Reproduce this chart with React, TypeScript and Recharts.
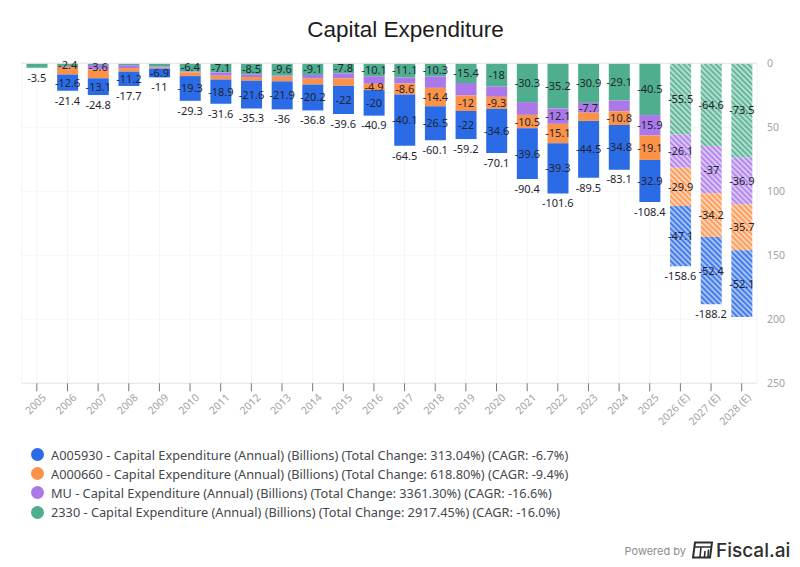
import React from 'react';
import {
  Bar,
  CartesianGrid,
  Cell,
  ComposedChart,
  LabelList,
  Line,
  ReferenceLine,
  XAxis,
  YAxis,
} from 'recharts';

const years = [
  '2005', '2006', '2007', '2008', '2009', '2010', '2011', '2012', '2013', '2014', '2015', '2016',
  '2017', '2018', '2019', '2020', '2021', '2022', '2023', '2024', '2025', '2026 (E)', '2027 (E)', '2028 (E)',
];

const greenValues = [-3.5, -2.4, -1.3, -1.5, -2.6, -6.4, -7.1, -8.5, -9.6, -9.1, -7.8, -10.1, -11.1, -10.3, -15.4, -18, -30.3, -35.2, -30.9, -29.1, -40.5, -55.5, -64.6, -73.5];
const purpleValues = [0, -0.4, -3.6, -2.2, -0.8, -0.8, -2.6, -2.3, -0.9, -2.9, -4, -5.9, -4.7, -8.9, -9.8, -8.2, -10, -12.1, -7.7, -8.4, -15.9, -26.1, -37, -36.9];
const orangeValues = [0, -6, -6.8, -2.8, -0.7, -2.8, -3, -2.9, -3.6, -4.6, -5.8, -4.9, -8.6, -14.4, -12, -9.3, -10.5, -15.1, -6.4, -10.8, -19.1, -29.9, -34.2, -35.7];
const blueValues = [0, -12.6, -13.1, -11.2, -6.9, -19.3, -18.9, -21.6, -21.9, -20.2, -22, -20, -40.1, -26.5, -22, -34.6, -39.6, -39.3, -44.5, -34.8, -32.9, -47.1, -52.4, -52.1];
const totalValues = [-3.5, -21.4, -24.8, -17.7, -11, -29.3, -31.6, -35.3, -36, -36.8, -39.6, -40.9, -64.5, -60.1, -59.2, -70.1, -90.4, -101.6, -89.5, -83.1, -108.4, -158.6, -188.2, null];

// the source chart skips the label on these segments
const greenHidden = ['2005', '2007', '2008', '2009'];
const purpleShown = ['2007', '2022', '2023', '2025', '2026 (E)', '2027 (E)', '2028 (E)'];
const orangeHidden = ['2005', '2006', '2007', '2008', '2009', '2010', '2011', '2012', '2013', '2014', '2015', '2023'];
const blueHidden = ['2005'];

const yTicks = [0, -50, -100, -150, -200, -250];

const BLUE = '#2B6BE6';
const ORANGE = '#FA9248';
const PURPLE = '#AB78EA';
const GREEN = '#4EAE8D';

const legendItems = [
  { color: BLUE, text: 'A005930 - Capital Expenditure (Annual) (Billions) (Total Change: 313.04%) (CAGR: -6.7%)' },
  { color: ORANGE, text: 'A000660 - Capital Expenditure (Annual) (Billions) (Total Change: 618.80%) (CAGR: -9.4%)' },
  { color: PURPLE, text: 'MU - Capital Expenditure (Annual) (Billions) (Total Change: 3361.30%) (CAGR: -16.6%)' },
  { color: GREEN, text: '2330 - Capital Expenditure (Annual) (Billions) (Total Change: 2917.45%) (CAGR: -16.0%)' },
];

const data = years.map((year, i) => ({
  year,
  green: greenValues[i],
  purple: purpleValues[i],
  orange: orangeValues[i],
  blue: blueValues[i],
  total: totalValues[i],
  greenLabel: greenHidden.includes(year) ? null : greenValues[i],
  purpleLabel: purpleShown.includes(year) ? purpleValues[i] : null,
  orangeLabel: orangeHidden.includes(year) ? null : orangeValues[i],
  blueLabel: blueHidden.includes(year) ? null : blueValues[i],
}));

const labelStyle = { fontFamily: 'Noto Sans', fontSize: 11, fill: '#1f2530' };

const XTick = ({ x, y, payload }: any) => (
  <text
    x={0}
    y={0}
    transform={`translate(${x + 7},${y + 2}) rotate(-45)`}
    textAnchor="end"
    dominantBaseline="central"
    fontFamily="Noto Sans"
    fontSize={10.5}
    fill="#a3a3a3"
  >
    {payload.value}
  </text>
);

const stripes = (id: string, color: string) => (
  <pattern id={id} width={3.8} height={3.8} patternUnits="userSpaceOnUse" patternTransform="rotate(-45)">
    <rect width={3.8} height={3.8} fill={color} fillOpacity={0.42} />
    <rect width={1.9} height={3.8} fill={color} fillOpacity={0.8} />
  </pattern>
);

// forecast years get the striped fill
const cells = (name: string, color: string) =>
  years.map((year) => <Cell key={year} fill={year.includes('(E)') ? `url(#${name}Stripes)` : color} />);

export default function App() {
  return (
    <div style={{ position: 'absolute', left: 0, top: 0, width: 800, height: 567, background: '#fff', overflow: 'hidden' }}>
      <div
        style={{
          position: 'absolute',
          left: 0,
          width: 811,
          top: 15,
          textAlign: 'center',
          fontFamily: 'Liberation Sans',
          fontSize: 22.5,
          lineHeight: '30px',
          color: '#1c1c1c',
        }}
      >
        Capital Expenditure
      </div>

      <ComposedChart
        width={800}
        height={567}
        data={data}
        stackOffset="sign"
        barSize={21}
        margin={{ top: 63.3, right: 0, bottom: 143.7, left: 21.5 }}
      >
        <defs>
          {stripes('greenStripes', GREEN)}
          {stripes('purpleStripes', PURPLE)}
          {stripes('orangeStripes', ORANGE)}
          {stripes('blueStripes', BLUE)}
        </defs>
        <CartesianGrid stroke="#f5f5f5" />
        <XAxis
          dataKey="year"
          interval={0}
          height={40}
          tickSize={8}
          tickMargin={2}
          tick={<XTick />}
          axisLine={{ stroke: '#e6e6e6' }}
          tickLine={{ stroke: '#777' }}
        />
        <YAxis
          orientation="right"
          width={43}
          domain={[-250, 0]}
          ticks={yTicks}
          tickSize={0}
          tickMargin={10}
          axisLine={false}
          tickLine={false}
          tick={{ fontFamily: 'Noto Sans', fontSize: 10.5, fill: '#a3a3a3' }}
          tickFormatter={(v: number) => String(Math.abs(v))}
        />
        <ReferenceLine y={0} stroke="#e6e6e6" />
        <Bar dataKey="green" stackId="capex" isAnimationActive={false}>
          {cells('green', GREEN)}
          <LabelList dataKey="greenLabel" position="center" style={labelStyle} />
        </Bar>
        <Bar dataKey="purple" stackId="capex" isAnimationActive={false}>
          {cells('purple', PURPLE)}
          <LabelList dataKey="purpleLabel" position="center" style={labelStyle} />
        </Bar>
        <Bar dataKey="orange" stackId="capex" isAnimationActive={false}>
          {cells('orange', ORANGE)}
          <LabelList dataKey="orangeLabel" position="center" style={labelStyle} />
        </Bar>
        <Bar dataKey="blue" stackId="capex" isAnimationActive={false}>
          {cells('blue', BLUE)}
          <LabelList dataKey="blueLabel" position="center" style={labelStyle} />
        </Bar>
        <Line dataKey="total" stroke="none" dot={false} legendType="none" isAnimationActive={false}>
          <LabelList dataKey="total" position="bottom" offset={6} style={labelStyle} />
        </Line>
      </ComposedChart>

      <div style={{ position: 'absolute', left: 31, top: 445 }}>
        {legendItems.map((item) => (
          <div key={item.text} style={{ display: 'flex', alignItems: 'center', height: 19.2 }}>
            <span style={{ width: 13, height: 13, borderRadius: 7, background: item.color, marginRight: 7 }} />
            <span style={{ fontFamily: 'Noto Sans', fontSize: 12.75, color: '#45474d', whiteSpace: 'nowrap' }}>
              {item.text}
            </span>
          </div>
        ))}
      </div>

      <div
        style={{
          position: 'absolute',
          right: 114,
          top: 543,
          fontFamily: 'Inter',
          fontSize: 11,
          lineHeight: '16px',
          color: '#8c8c8c',
        }}
      >
        Powered by
      </div>
      <svg style={{ position: 'absolute', left: 692, top: 541 }} width={21} height={18} viewBox="0 0 21 18">
        <path d="M3 1.5 H20 L18 16.5 H1 Z" fill="none" stroke="#2e2e2e" strokeWidth={2} />
        <path d="M2.5 6 H19 M9 6 L8 16 M13 10 L12.5 16 M16.5 8.5 L16 16" stroke="#2e2e2e" strokeWidth={1.6} fill="none" />
      </svg>
      <div
        style={{
          position: 'absolute',
          left: 716,
          top: 539,
          fontFamily: 'Inter',
          fontSize: 19,
          fontWeight: 500,
          lineHeight: '24px',
          color: '#2e2e2e',
        }}
      >
        Fiscal.ai
      </div>
    </div>
  );
}
